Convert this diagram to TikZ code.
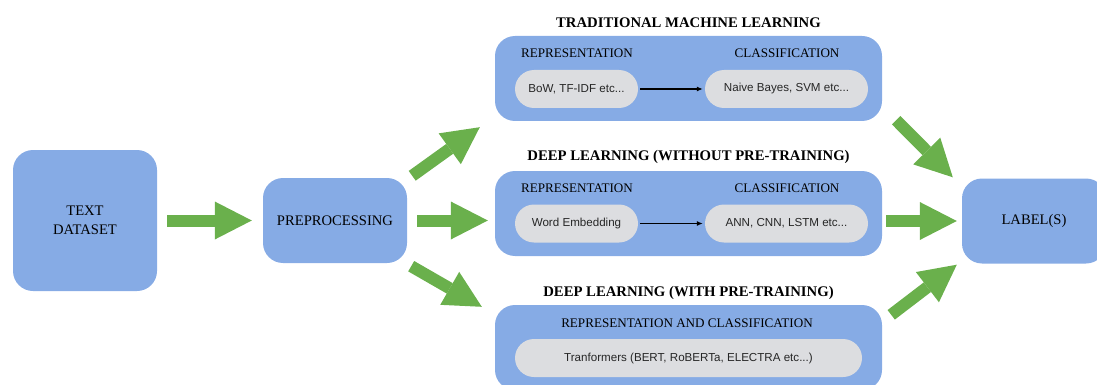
\documentclass[tikz,border=0pt]{standalone}
\usepackage{fontspec}
\setmainfont{Liberation Serif}
\newfontfamily\pillfont{Liberation Sans}
\usepackage{tikz}
\usetikzlibrary{arrows.meta,calc}
\definecolor{boxblue}{RGB}{134,171,229}
\definecolor{arrgreen}{RGB}{106,176,76}
\definecolor{pillgrey}{RGB}{220,221,224}
\tikzstyle{box}=[rectangle, rounded corners=20pt, fill=boxblue, inner sep=0pt, align=center, font=\fontsize{14.6}{19.5}\selectfont]
\tikzstyle{pill}=[rectangle, rounded corners=19pt, fill=pillgrey, minimum height=38pt, inner sep=0pt, text=black!85, font=\pillfont\fontsize{11.6}{13}\selectfont]
\tikzstyle{hdr}=[inner sep=0pt, font=\bfseries\fontsize{14.7}{17}\selectfont]
\tikzstyle{sub}=[inner sep=0pt, font=\fontsize{13.1}{15}\selectfont]
\tikzstyle{garr}=[draw=arrgreen, line width=12pt, -{Triangle[length=37pt, width=38pt, line width=0pt]}]
\tikzstyle{thin}=[line width=1.1pt, -{Latex[length=6pt, width=5pt]}, shorten <=2pt, shorten >=2pt]

\begin{document}
\begin{tikzpicture}[x=1pt, y=-1pt]
    \useasboundingbox (0,0) rectangle (1097,385);
    \clip (0,0) rectangle (1097,385);
    \node[box, minimum width=144pt, minimum height=141pt] (text) at (85,220.5) {TEXT\\DATASET};
    \node[box, minimum width=144pt, minimum height=85pt] (prep) at (335,220.5) {PREPROCESSING};
    \node[box, minimum width=387pt, minimum height=85pt] (trad) at (688.5,78.5) {};
    \node[box, minimum width=387pt, minimum height=85pt] (dlw) at (688.5,213.5) {};
    \node[box, minimum width=387pt, minimum height=85pt] (dlp) at (688.5,347.5) {};
    \node[box, minimum width=144pt, minimum height=85pt] (label) at (1034,221) {LABEL(S)};

    \node[hdr] (tradt) at (688.5,23) {TRADITIONAL MACHINE LEARNING};
    \node[hdr] (dlwt) at (688.5,157) {DEEP LEARNING (WITHOUT PRE-TRAINING)};
    \node[hdr] (dlpt) at (688.5,293) {DEEP LEARNING (WITH PRE-TRAINING)};

    \node[sub] (trep) at (577,53) {REPRESENTATION};
    \node[sub] (tcls) at (787,53) {CLASSIFICATION};
    \node[sub] (wrep) at (577,188) {REPRESENTATION};
    \node[sub] (wcls) at (787,188) {CLASSIFICATION};
    \node[sub] (prc) at (687,323) {REPRESENTATION AND CLASSIFICATION};

    \node[pill, minimum width=123pt] (tbow) at (576.5,89) {BoW, TF-IDF etc...};
    \node[pill, minimum width=163pt] (tnb) at (786.5,89) {Naive Bayes, SVM etc...};
    \node[pill, minimum width=123pt] (wemb) at (576.5,223.5) {Word Embedding};
    \node[pill, minimum width=163pt] (wann) at (786.5,223.5) {ANN, CNN, LSTM etc...};
    \node[pill, minimum width=347pt] (ptr) at (688.5,358) {Tranformers (BERT, RoBERTa, ELECTRA etc...)};

    \draw[thin] (tbow) -- (tnb);
    \draw[thin] (wemb) -- (wann);

    \draw[garr, shorten <=10pt, shorten >=11pt] (text) -- (prep);
    \draw[garr, shorten <=10pt, shorten >=7pt] (prep) -- (prep -| dlw.west);
    \draw[garr] ($(prep.north east)+(5,-2)$) -- ($(trad.south west)+(-15,6)$);
    \draw[garr] ($(prep.south east)+(4,3)$) -- ($(dlp.north west)+(-13,2)$);
    \draw[garr, shorten <=4pt, shorten >=5pt] (label -| dlw.east) -- (label);
    \draw[garr] ($(trad.south east)+(14,-1)$) -- ($(label.north west)+(-9,-1)$);
    \draw[garr] ($(dlp.north east)+(9,10)$) -- ($(label.south west)+(-5,1)$);
\end{tikzpicture}
\end{document}
